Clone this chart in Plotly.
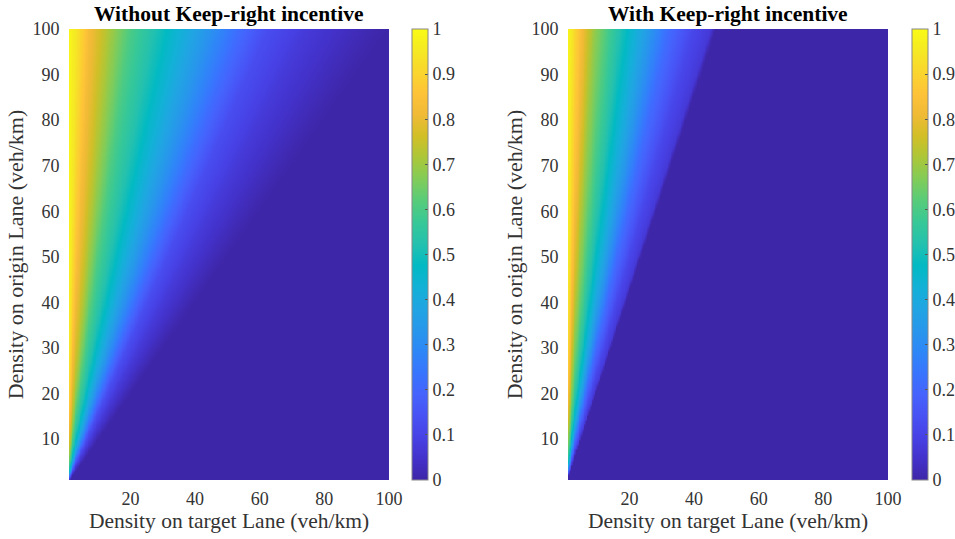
import numpy as np
import plotly.graph_objects as go

# Axis grids (veh/km)
target_density = np.linspace(1, 100, 199)
origin_density = np.linspace(1, 100, 199)

# Profiles: value vs. ratio (target / origin density)
ratio_without = [0.0, 0.03, 0.07, 0.14, 0.20, 0.30, 0.42, 0.53, 0.62, 0.75, 0.88, 0.97, 1.0]
value_without = [1.0, 0.95, 0.83, 0.70, 0.60, 0.49, 0.35, 0.22, 0.13, 0.07, 0.03, 0.005, 0.0]
ratio_with = [0.0, 0.02, 0.047, 0.087, 0.13, 0.18, 0.24, 0.316, 0.397, 0.45, 0.465, 1.0]
value_with = [1.0, 0.95, 0.84, 0.70, 0.60, 0.50, 0.38, 0.22, 0.11, 0.07, 0.0, 0.0]

titles = ["Without Keep-right incentive", "With Keep-right incentive"]
x_title = "Density on target Lane (veh/km)"
y_title = "Density on origin Lane (veh/km)"
x_ticks = [20, 40, 60, 80, 100]
y_ticks = [10, 20, 30, 40, 50, 60, 70, 80, 90, 100]
cb_ticks = [0, 0.1, 0.2, 0.3, 0.4, 0.5, 0.6, 0.7, 0.8, 0.9, 1]
cb_labels = ["0", "0.1", "0.2", "0.3", "0.4", "0.5", "0.6", "0.7", "0.8", "0.9", "1"]

parula = [
    (0.2422, 0.1504, 0.6603), (0.2647, 0.1978, 0.7952), (0.2783, 0.2559, 0.8991),
    (0.2810, 0.3228, 0.9579), (0.2699, 0.3892, 0.9906), (0.2206, 0.4603, 0.9973),
    (0.1786, 0.5289, 0.9682), (0.1540, 0.5902, 0.9218), (0.1248, 0.6459, 0.8883),
    (0.0689, 0.6948, 0.8394), (0.0067, 0.7312, 0.7660), (0.1408, 0.7584, 0.6842),
    (0.2161, 0.7843, 0.5923), (0.3406, 0.8008, 0.4789), (0.5044, 0.7993, 0.3480),
    (0.6720, 0.7793, 0.2227), (0.8203, 0.7498, 0.1535), (0.9393, 0.7288, 0.2100),
    (0.9970, 0.7659, 0.2199), (0.9786, 0.8386, 0.1766), (0.9597, 0.9135, 0.1423),
    (0.9769, 0.9839, 0.0805),
]
n = len(parula)
colorscale = [[i / (n - 1), "rgb(%d,%d,%d)" % tuple(int(round(c * 255)) for c in col)]
              for i, col in enumerate(parula)]

X, Y = np.meshgrid(target_density, origin_density)
R = X / Y
z_without = np.interp(R, ratio_without, value_without)
z_with = np.interp(R, ratio_with, value_with)

W, H = 955, 539
def fx(px):
    return px / W
def fy(py):
    return 1 - py / H

font = "Liberation Serif, Times New Roman, serif"
plot_x = [(69, 389), (568, 888)]
cb_x = [412, 912]
top, bottom = 29, 480

fig = go.Figure()
for i, z in enumerate([z_without, z_with]):
    fig.add_trace(go.Heatmap(
        x=target_density, y=origin_density, z=z,
        colorscale=colorscale, zmin=0, zmax=1, zsmooth="best",
        xaxis="x" if i == 0 else "x2", yaxis="y" if i == 0 else "y2",
        colorbar=dict(
            x=fx(cb_x[i]), xanchor="left", y=fy(bottom), yanchor="bottom",
            len=(bottom - top) / H, lenmode="fraction", thickness=16, thicknessmode="pixels",
            tickvals=cb_ticks, ticktext=cb_labels, ticks="inside", ticklen=3,
            tickcolor="#555", outlinecolor="#888", outlinewidth=1,
            tickfont=dict(family=font, size=18, color="#333"), xpad=0, ypad=0,
        ),
        hoverinfo="skip",
    ))

common_x = dict(range=[1, 100], tickvals=x_ticks, showgrid=False, zeroline=False,
                ticks="outside", ticklen=2, tickcolor="rgba(0,0,0,0)",
                tickfont=dict(family=font, size=18, color="#333"),
                title=dict(text=x_title, font=dict(family=font, size=21.5, color="#333"), standoff=5))
common_y = dict(range=[1, 100], tickvals=y_ticks, showgrid=False, zeroline=False,
                ticks="outside", ticklen=5, tickcolor="rgba(0,0,0,0)",
                tickfont=dict(family=font, size=18, color="#333"),
                title=dict(text=y_title, font=dict(family=font, size=22, color="#333"), standoff=2))

fig.update_layout(
    width=W, height=H, margin=dict(l=0, r=0, t=0, b=0, autoexpand=False),
    paper_bgcolor="white", plot_bgcolor="white",
    xaxis=dict(domain=[fx(plot_x[0][0]), fx(plot_x[0][1])], anchor="y", **common_x),
    yaxis=dict(domain=[fy(bottom), fy(top)], anchor="x", **common_y),
    xaxis2=dict(domain=[fx(plot_x[1][0]), fx(plot_x[1][1])], anchor="y2", **common_x),
    yaxis2=dict(domain=[fy(bottom), fy(top)], anchor="x2", **common_y),
    showlegend=False,
)

for i, t in enumerate(titles):
    cx = (plot_x[i][0] + plot_x[i][1]) / 2
    fig.add_annotation(text="<b>%s</b>" % t, x=fx(cx), y=fy(14), xref="paper", yref="paper",
                       showarrow=False, xanchor="center", yanchor="middle",
                       font=dict(family=font, size=21.5, color="black"))

fig.write_html("out.html", config={"displayModeBar": False},
               post_script="document.body.style.margin='0';document.body.style.overflow='hidden';")
